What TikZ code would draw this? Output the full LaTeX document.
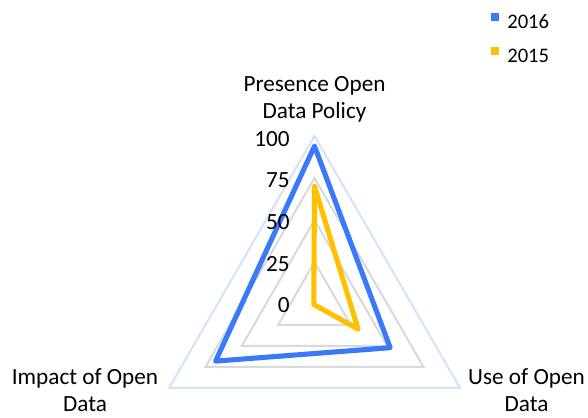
\documentclass[tikz,border=0pt]{standalone}
\usepackage{fontspec}
\setmainfont{Carlito}
\definecolor{serA}{RGB}{58,122,250}
\definecolor{serB}{RGB}{255,192,0}
\definecolor{gridgrey}{RGB}{217,217,217}
\definecolor{outerblue}{RGB}{212,225,250}
\tikzset{
  gridline/.style={draw=gridgrey, line width=1.5pt},
  outerline/.style={draw=outerblue, line width=1.5pt},
  series/.style={line width=3.8pt, line join=round},
  axislabel/.style={align=center, inner sep=0pt, font=\fontsize{17.4}{20.3}\selectfont},
  ticklabel/.style={anchor=east, inner sep=0pt, font=\fontsize{17.4}{20}\selectfont},
  legtext/.style={anchor=west, inner sep=0pt, font=\fontsize{15.5}{18}\selectfont},
  legbox/.style={minimum size=6pt, inner sep=0pt}
}
\begin{document}
\begin{tikzpicture}[x=0.75pt, y=0.75pt]
\useasboundingbox (0,0) rectangle (588,417);
\begin{scope}[shift={(314.5,113)}]
  \coordinate (c) at (0,0);
  % grid
  \foreach \r in {42,84,126} {
    \draw[gridline] (90:\r) -- (210:\r) -- (330:\r) -- cycle;
  }
  \draw[outerline] (90:168) -- (210:168) -- (330:168) -- cycle;
  % series 2016
  \coordinate (b1) at (90:{0.94*168});
  \coordinate (b2) at (330:{0.52*168});
  \coordinate (b3) at (210:{0.68*168});
  \draw[series, serA] (b1) -- (b2) -- (b3) -- cycle;
  % series 2015
  \coordinate (y1) at (90:{0.70*168});
  \coordinate (y2) at (330:{0.30*168});
  \coordinate (y3) at (210:{0.005*168});
  \draw[series, serB] (y1) -- (y2) -- (y3) -- cycle;
  % tick labels
  \node[ticklabel] (t100) at (-24.5,165) {100};
  \node[ticklabel] (t75) at (-24.5,124) {75};
  \node[ticklabel] (t50) at (-24.5,82) {50};
  \node[ticklabel] (t25) at (-24.5,40) {25};
  \node[ticklabel] (t0) at (-24.5,-1) {0};
  % axis labels
  \node[axislabel] (lp) at (0,205) {Presence Open\\Data Policy};
  \node[axislabel] (li) at (-229.5,-86) {Impact of Open\\Data};
  \node[axislabel] (lu) at (212,-86) {Use of Open\\Data};
\end{scope}
% legend
\node[legbox, fill=serA] (k1) at (495,400) {};
\node[legtext] (l1) at (507,395) {2016};
\node[legbox, fill=serB] (k2) at (495,366) {};
\node[legtext] (l2) at (507,361) {2015};
\end{tikzpicture}
\end{document}
